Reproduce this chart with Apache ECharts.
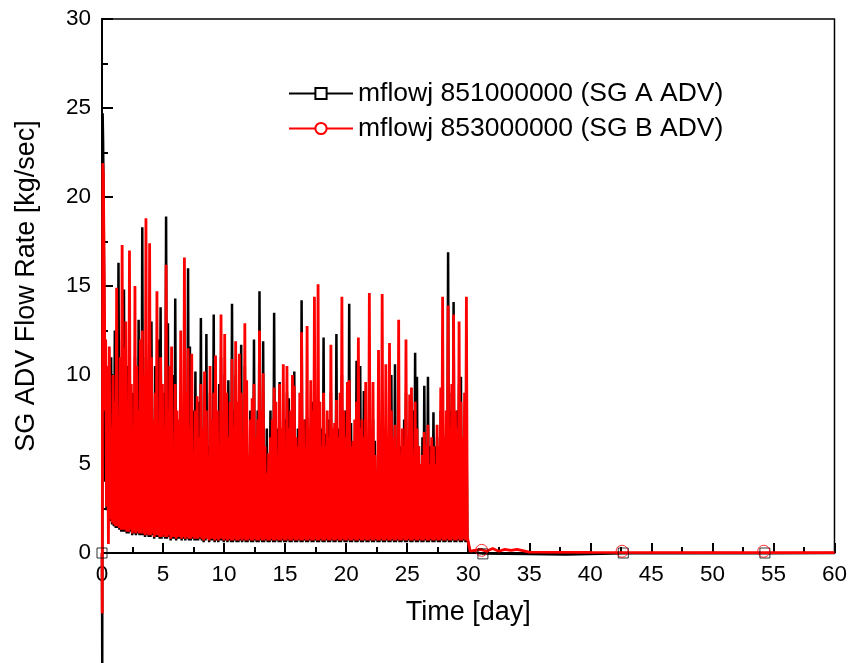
<!DOCTYPE html>
<html>
<head>
<meta charset="utf-8">
<title>SG ADV Flow Rate</title>
<script src="https://cdn.jsdelivr.net/npm/echarts@6/dist/echarts.min.js"></script>
<style>
  html, body { margin: 0; padding: 0; background: #fff; }
  #chart { width: 850px; height: 663px; }
</style>
</head>
<body>
<div id="chart"></div>
<script>
// peaks are sampled every 0.15 day starting at day 0.3, a trough follows each peak
var peakStart = 0.3;
var peakStep = 0.15;

var blackPeaks = [
  10.5, 9.0, 7.5, 11.0, 6.0, 12.5, 8.0, 16.3, 9.0, 12.0,
  14.8, 7.0, 10.5, 12.0, 6.5, 9.0, 11.0, 5.5, 13.1, 8.0,
  18.3, 8.0, 11.0, 7.0, 9.5, 13.0, 6.0, 10.5, 8.5, 12.0,
  13.8, 6.0, 9.0, 18.9, 12.9, 5.5, 8.0, 10.0, 14.3, 6.5,
  5.0, 9.0, 7.0, 11.0, 6.0, 16.0, 11.6, 5.5, 8.0, 10.2,
  6.0, 8.5, 13.2, 5.0, 7.5, 12.3, 6.0, 9.0, 5.5, 13.4,
  7.0, 5.0, 9.5, 11.0, 6.0, 10.0, 5.5, 9.7, 7.0, 14.0,
  8.0, 10.0, 6.0, 9.0, 11.7, 5.0, 10.5, 7.0, 5.5, 8.0,
  6.0, 12.0, 5.0, 8.0, 14.7, 6.5, 11.9, 5.5, 7.0, 5.0,
  8.0, 5.0, 13.5, 6.0, 7.0, 9.6, 5.0, 5.8, 7.5, 9.0,
  8.7, 6.0, 8.0, 10.2, 5.5, 7.0, 6.0, 14.2, 5.0, 7.5,
  7.6, 6.0, 7.0, 8.5, 9.0, 5.5, 8.0, 6.0, 7.0, 12.1,
  6.7, 5.0, 7.5, 9.0, 6.0, 5.5, 12.3, 7.0, 5.0, 10.0,
  6.0, 8.0, 7.0, 14.0, 7.3, 5.5, 6.0, 10.8, 9.0, 10.5,
  6.5, 9.1, 7.0, 5.5, 8.0, 6.0, 7.5, 6.3, 4.5, 8.0,
  6.0, 8.0, 5.5, 7.0, 6.5, 8.0, 10.0, 6.0, 10.6, 5.5,
  7.0, 6.0, 5.0, 7.5, 9.0, 5.5, 7.0, 6.5, 8.0, 11.25,
  9.9, 6.0, 4.5, 6.5, 9.4, 5.0, 9.9, 6.0, 5.5, 7.9,
  6.0, 6.5, 5.0, 8.0, 9.0, 6.0, 7.5, 16.9, 8.0, 9.0,
  14.1, 7.0, 8.0, 9.5, 9.9, 6.0, 7.5, 8.0
];
var blackTroughs = [
  2.4, 2.0, 1.8, 1.6, 1.5, 1.4, 1.4, 1.3, 1.2, 1.2,
  1.2, 1.1, 1.1, 1.2, 1.0, 1.1, 1.0, 1.1, 1.0, 1.0,
  1.0, 0.9, 1.0, 0.9, 0.9, 1.0, 0.8, 0.9, 0.9, 0.8,
  0.8, 0.9, 0.8, 0.8, 0.9, 0.7, 0.8, 0.8, 0.7, 0.8,
  0.8, 0.7, 0.8, 0.7, 0.8, 0.7, 0.7, 0.8, 0.7, 0.7,
  0.7, 0.8, 0.7, 0.6, 0.7, 0.8, 0.6, 0.7, 0.7, 0.6,
  0.7, 0.6, 0.7, 0.7, 0.6, 0.7, 0.6, 0.7, 0.6, 0.6,
  0.7, 0.6, 0.6, 0.7, 0.6, 0.7, 0.6, 0.6, 0.7, 0.6,
  0.6, 0.7, 0.6, 0.6, 0.7, 0.6, 0.6, 0.7, 0.6, 0.6,
  0.7, 0.6, 0.6, 0.7, 0.6, 0.6, 0.7, 0.6, 0.6, 0.7,
  0.6, 0.6, 0.7, 0.6, 0.6, 0.7, 0.6, 0.6, 0.7, 0.6,
  0.6, 0.7, 0.6, 0.6, 0.7, 0.6, 0.6, 0.7, 0.6, 0.6,
  0.7, 0.6, 0.6, 0.7, 0.6, 0.6, 0.7, 0.6, 0.6, 0.7,
  0.6, 0.6, 0.7, 0.6, 0.6, 0.7, 0.6, 0.6, 0.7, 0.6,
  0.6, 0.7, 0.6, 0.6, 0.7, 0.6, 0.6, 0.7, 0.6, 0.6,
  0.7, 0.6, 0.6, 0.7, 0.6, 0.6, 0.7, 0.6, 0.6, 0.7,
  0.6, 0.6, 0.7, 0.6, 0.6, 0.7, 0.6, 0.6, 0.7, 0.6,
  0.6, 0.7, 0.6, 0.6, 0.7, 0.6, 0.6, 0.7, 0.6, 0.6,
  0.7, 0.6, 0.6, 0.7, 0.6, 0.6, 0.7, 0.6, 0.6, 0.7,
  0.6, 0.6, 0.7, 0.6, 0.6, 0.7, 0.6, 0.8
];
var redPeaks = [
  12.0, 10.5, 11.6, 7.0, 10.0, 8.5, 14.9, 6.5, 11.0, 17.3,
  11.5, 13.0, 7.5, 17.0, 9.5, 6.0, 15.0, 10.5, 8.0, 12.0,
  12.5, 10.0, 18.8, 8.5, 17.4, 11.0, 7.5, 9.0, 14.7, 6.5,
  11.0, 9.5, 7.0, 16.2, 8.0, 10.5, 11.6, 6.0, 9.5, 8.0,
  7.5, 12.5, 6.0, 16.6, 9.0, 11.5, 7.0, 11.2, 5.5, 8.0,
  8.8, 6.5, 9.5, 7.0, 10.2, 8.0, 5.0, 10.5, 7.5, 9.0,
  11.1, 8.0, 6.0, 13.4, 7.5, 12.3, 9.0, 6.5, 8.5, 10.9,
  7.0, 11.9, 8.5, 11.2, 9.0, 6.5, 12.9, 9.7, 5.5, 7.5,
  8.7, 9.5, 6.5, 7.5, 12.5, 8.0, 10.1, 6.0, 4.5, 5.6,
  6.5, 7.5, 9.3, 8.5, 5.5, 9.5, 7.0, 10.6, 6.0, 10.5,
  7.0, 8.0, 10.0, 9.4, 6.5, 6.0, 9.0, 12.4, 7.5, 6.0,
  12.75, 7.0, 9.7, 8.0, 14.4, 6.5, 15.1, 8.5, 6.0, 9.0,
  6.0, 8.0, 6.5, 11.7, 7.0, 7.3, 8.6, 6.5, 9.0, 14.4,
  8.0, 6.5, 9.6, 9.7, 6.0, 6.3, 7.5, 8.5, 12.1, 7.0,
  7.5, 6.5, 9.6, 6.0, 14.6, 7.0, 9.6, 5.5, 4.7, 11.4,
  6.5, 14.55, 7.0, 10.6, 6.0, 11.8, 8.0, 6.5, 7.2, 6.0,
  13.1, 5.5, 7.0, 6.0, 12.0, 6.5, 8.9, 9.3, 5.5, 8.5,
  7.0, 6.0, 5.0, 5.5, 6.8, 6.0, 7.2, 5.0, 6.5, 6.0,
  5.0, 7.2, 6.0, 9.3, 14.4, 6.5, 8.0, 13.9, 7.0, 9.5,
  13.4, 8.0, 7.0, 13.0, 8.5, 6.5, 9.0, 14.4
];
var redTroughs = [
  2.6, 0.5, 1.9, 1.7, 1.6, 1.5, 1.5, 1.4, 1.3, 1.3,
  1.3, 1.2, 1.2, 1.3, 1.1, 1.2, 1.1, 1.2, 1.1, 1.1,
  1.1, 1.0, 1.1, 1.0, 1.0, 1.1, 0.9, 1.0, 1.0, 0.9,
  0.9, 1.0, 0.9, 0.9, 1.0, 0.8, 0.9, 0.9, 0.8, 0.9,
  0.9, 0.8, 0.9, 0.8, 0.9, 0.8, 0.8, 0.9, 0.8, 0.8,
  0.8, 0.9, 0.8, 0.7, 0.8, 0.8, 0.7, 0.8, 0.8, 0.7,
  0.8, 0.7, 0.8, 0.8, 0.7, 0.8, 0.7, 0.8, 0.7, 0.7,
  0.8, 0.7, 0.7, 0.8, 0.7, 0.8, 0.7, 0.7, 0.8, 0.7,
  0.7, 0.8, 0.7, 0.7, 0.8, 0.7, 0.7, 0.8, 0.7, 0.7,
  0.8, 0.7, 0.7, 0.8, 0.7, 0.7, 0.8, 0.7, 0.7, 0.8,
  0.7, 0.7, 0.8, 0.7, 0.7, 0.8, 0.7, 0.7, 0.8, 0.7,
  0.7, 0.8, 0.7, 0.7, 0.8, 0.7, 0.7, 0.8, 0.7, 0.7,
  0.8, 0.7, 0.7, 0.8, 0.7, 0.7, 0.8, 0.7, 0.7, 0.8,
  0.7, 0.7, 0.8, 0.7, 0.7, 0.8, 0.7, 0.7, 0.8, 0.7,
  0.7, 0.8, 0.7, 0.7, 0.8, 0.7, 0.7, 0.8, 0.7, 0.7,
  0.8, 0.7, 0.7, 0.8, 0.7, 0.7, 0.8, 0.7, 0.7, 0.8,
  0.7, 0.7, 0.8, 0.7, 0.7, 0.8, 0.7, 0.7, 0.8, 0.7,
  0.7, 0.8, 0.7, 0.7, 0.8, 0.7, 0.7, 0.8, 0.7, 0.7,
  0.8, 0.7, 0.7, 0.8, 0.7, 0.7, 0.8, 0.7, 0.7, 0.8,
  0.7, 0.7, 0.8, 0.7, 0.7, 0.8, 0.7, 0.9
];

// start-up transient and the quiet part after day 30: [day, kg/sec]
var blackHead = [[0, 0], [0.02, -6.2], [0.05, 24.7], [0.09, 23.1], [0.13, 20.0], [0.18, 14.0], [0.22, 9.0], [0.26, 4.0]];
var redHead = [[0, 0], [0.02, -3.4], [0.06, 21.9], [0.11, 21.3], [0.15, 18.0], [0.2, 14.0], [0.25, 8.0]];
var blackTail = [[30.0, 0.7], [30.15, 0.05], [31.2, -0.03], [35, -0.05], [38, -0.08], [42.7, -0.02], [50, 0], [54.3, -0.02], [60, 0]];
var redTail = [[30.0, 0.9], [30.15, 0.1], [31.0, 0.2], [31.5, 0.1], [32, 0.25], [32.5, 0.1], [33, 0.2], [33.5, 0.15], [34, 0.2], [35, 0.05], [40, 0.03], [50, 0.02], [60, 0.02]];

// symbols placed by the plotting program along the curves
var blackMarks = [[0, 0], [31.2, -0.05], [42.7, 0], [54.3, 0]];
var redMarks = [[31.1, 0.15], [42.6, 0.1], [54.2, 0.1]];

var xTicks = { min: 0, max: 60, interval: 5 };
var yTicks = { min: 0, max: 30, interval: 5 };

function buildSeries(head, peaks, troughs, tail) {
  var out = head.slice();
  for (var i = 0; i < peaks.length; i++) {
    var t = peakStart + i * peakStep;
    out.push([t, peaks[i]]);
    out.push([t + peakStep / 2, troughs[i]]);
  }
  return out.concat(tail);
}

var chart = echarts.init(document.getElementById('chart'));
var font = 'Liberation Sans, Arial, sans-serif';

chart.setOption({
  animation: false,
  backgroundColor: '#fff',
  grid: {
    left: 102, right: 15, top: 19, bottom: 110,
    show: true, borderColor: '#000', borderWidth: 1.5, backgroundColor: 'transparent'
  },
  legend: {
    orient: 'vertical',
    left: 288, top: 80,
    padding: 0,
    itemWidth: 64, itemHeight: 14, itemGap: 8,
    textStyle: { fontFamily: font, fontSize: 26.5, color: '#000', lineHeight: 26 },
    data: ['mflowj 851000000 (SG A ADV)', 'mflowj 853000000 (SG B ADV)']
  },
  xAxis: {
    type: 'value',
    min: xTicks.min, max: xTicks.max, interval: xTicks.interval,
    name: 'Time [day]', nameLocation: 'middle', nameGap: 46,
    nameTextStyle: { fontFamily: font, fontSize: 27, color: '#000' },
    axisLine: { lineStyle: { color: '#000', width: 2 } },
    axisTick: { inside: true, length: 10, lineStyle: { color: '#000', width: 2 } },
    minorTick: { show: true, splitNumber: 2, length: 6, lineStyle: { color: '#000', width: 2 } },
    axisLabel: { fontFamily: font, fontSize: 22.5, color: '#000', margin: 10 },
    splitLine: { show: false }
  },
  yAxis: {
    type: 'value',
    min: yTicks.min, max: yTicks.max, interval: yTicks.interval,
    name: 'SG ADV Flow Rate [kg/sec]', nameLocation: 'middle', nameGap: 62,
    nameTextStyle: { fontFamily: font, fontSize: 27, color: '#000' },
    axisLine: { lineStyle: { color: '#000', width: 2 } },
    axisTick: { inside: true, length: 11, lineStyle: { color: '#000', width: 2 } },
    minorTick: { show: true, splitNumber: 2, length: 6, lineStyle: { color: '#000', width: 2 } },
    axisLabel: { fontFamily: font, fontSize: 22.5, color: '#000', margin: 11 },
    splitLine: { show: false }
  },
  series: [
    {
      name: 'mflowj 851000000 (SG A ADV)',
      type: 'line',
      data: buildSeries(blackHead, blackPeaks, blackTroughs, blackTail),
      clip: false,
      showSymbol: false,
      symbol: 'rect',
      sampling: false,
      lineStyle: { color: '#000', width: 2.5 },
      itemStyle: { color: '#fff', borderColor: '#000', borderWidth: 1 },
      z: 2
    },
    {
      name: 'mflowj 853000000 (SG B ADV)',
      type: 'line',
      data: buildSeries(redHead, redPeaks, redTroughs, redTail),
      clip: false,
      showSymbol: false,
      symbol: 'circle',
      sampling: false,
      lineStyle: { color: '#ff0000', width: 2.8 },
      itemStyle: { color: '#fff', borderColor: '#ff0000', borderWidth: 1 },
      z: 3
    },
    {
      type: 'scatter',
      data: blackMarks,
      clip: false,
      symbol: 'rect',
      symbolSize: 10,
      itemStyle: { color: 'rgba(255,255,255,0)', borderColor: '#000', borderWidth: 1 },
      z: 4
    },
    {
      type: 'scatter',
      data: redMarks,
      clip: false,
      symbol: 'circle',
      symbolSize: 12,
      itemStyle: { color: 'rgba(255,255,255,0)', borderColor: '#ff0000', borderWidth: 1 },
      z: 4
    }
  ]
});
</script>
</body>
</html>
